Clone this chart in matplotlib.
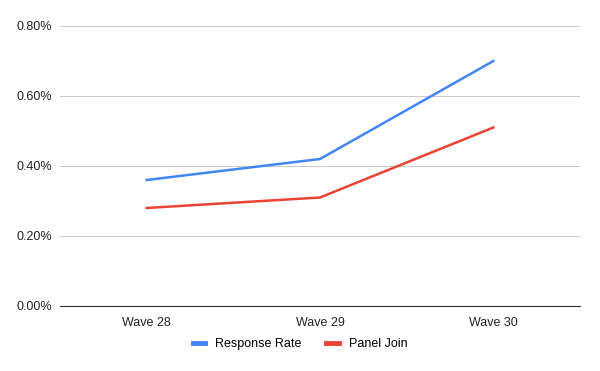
import matplotlib
matplotlib.use("Agg")
import matplotlib.pyplot as plt
from matplotlib.ticker import FuncFormatter

waves = ["Wave 28", "Wave 29", "Wave 30"]
response_rate = [0.36, 0.42, 0.70]
panel_join = [0.28, 0.31, 0.51]
y_ticks = [0.0, 0.2, 0.4, 0.6, 0.8]

plt.rcParams['font.family'] = ['Liberation Sans', 'DejaVu Sans']

fig = plt.figure(figsize=(6.0, 3.71), dpi=100)
ax = fig.add_axes([60/600, 1 - 306/371, 520/600, 280/371])

x = range(len(waves))
ax.plot(x, response_rate, color="#4285f4", lw=1.8, label="Response Rate")
ax.plot(x, panel_join, color="#ea4335", lw=1.8, label="Panel Join")

ax.set_xlim(-0.5, 2.5)
ax.set_ylim(0, 0.8)
ax.set_xticks(list(x))
ax.set_xticklabels(waves)
ax.set_yticks(y_ticks)
ax.yaxis.set_major_formatter(FuncFormatter(lambda v, p: f"{v:.2f}%"))
ax.grid(axis="y", color="#cccccc", lw=0.8)
ax.set_axisbelow(True)
for s in ["top", "right", "left"]:
    ax.spines[s].set_visible(False)
ax.spines["bottom"].set_color("#333333")
ax.tick_params(length=0, labelsize=9, colors="#222222")
ax.tick_params(axis="x", pad=8)
ax.tick_params(axis="y", pad=6)

handles, labels = ax.get_legend_handles_labels()
leg = fig.legend(handles, labels, loc="center", bbox_to_anchor=(0.5, 1 - 344/371), ncol=2,
                 frameon=False, fontsize=9, handlelength=1.0, columnspacing=2.0)
for h in leg.get_lines():
    h.set_linewidth(3.5)

fig.savefig("out.png", dpi=100)
